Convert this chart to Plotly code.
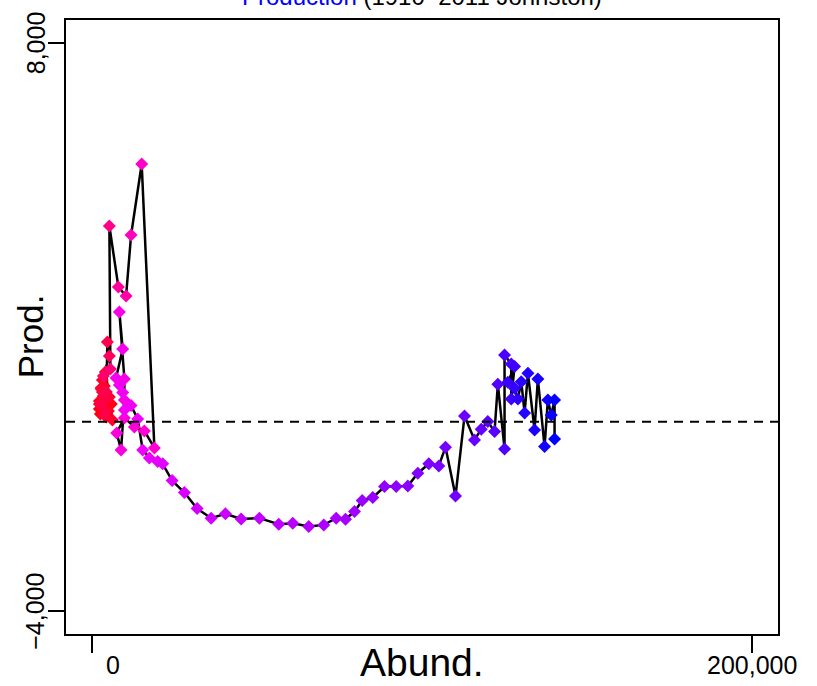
import plotly.graph_objects as go

# Abundance (x) and production (y), in time order
abund = [3035, 2125, 3946, 2428, 3339, 4553, 2732, 4249, 5767, 2125,
         3642, 4856, 3035, 5160, 3946, 6070, 2640, 3339, 2732, 3946,
         4553, 2125, 3035, 3642, 4249, 4553, 5160, 3339, 5463,
         5160, 7891, 10228, 11745, 14963, 18817,
         15782, 12747, 9712, 7375, 8710, 9712, 9712, 8195, 9196, 7193,
         8195, 9196, 9712, 11745, 13749, 15266, 17300, 19819, 21336,
         24189, 27922, 31776, 36025, 40366, 45131, 50685, 56542, 60791, 65647,
         70200, 73963, 76786, 79517, 81854, 85071, 88622, 92173, 95694, 98729,
         102067, 105102, 107136, 110171,
         112902, 115937, 117970, 119973, 122007, 123008, 125042, 125042, 127075, 127075,
         128077, 126045, 128077, 129078, 130110, 131131, 132132, 134147, 135149, 137182,
         138186, 139218, 140217, 140217]
prod = [377, 271, 482, 166, 545, 355, 693, 102, 377, 440,
        756, 229, 883, 524, 1052, 39, 714, 440, 314, 250,
        503, 377, 630, 145, 630, 1685, 1389, 967, 1115,
        4132, 2845, 2655, 3942, 5441, -552,
        -193, -109, 81, -235, -594, 461, 904, 2318, 1537, 925,
        777, 615, 250, 341, 60, -594, -763, -841, -889,
        -1242, -1495, -1833, -2035, -1944, -2050, -2035, -2162, -2141, -2212,
        -2177, -2035, -2056, -1896, -1664, -1600, -1368, -1368, -1354, -1086,
        -889, -932, -537, -1565,
        123, -383, -157, 3, -208, 792, -573, 1410, 1221, 482,
        1164, 834, 708, 482, 847, 187, 1024, -172, 904, -524,
        461, 144, 461, -362]
years = list(range(1910, 1910 + len(abund)))

x_ticks = [0, 200000]
x_tick_labels = ["0", "200,000"]
y_ticks = [-4000, 8000]
y_tick_labels = ["\u22124,000", "8,000"]

FONT = "Liberation Sans, Arial, Helvetica, sans-serif"

fig = go.Figure()
fig.add_trace(go.Scatter(
    x=abund, y=prod, mode="lines+markers",
    line=dict(color="black", width=2.5),
    marker=dict(symbol="diamond", size=10, color=years,
                colorscale=[[0, "#FF0000"], [0.25, "#FF0050"], [0.33, "#FF00D0"],
                            [0.5, "#EE00FF"], [1, "#0000FF"]],
                line=dict(width=0)),
    showlegend=False, hoverinfo="x+y+text", text=[str(y) for y in years],
))

fig.add_shape(type="line", xref="paper", x0=0, x1=1, yref="y", y0=0, y1=0,
              line=dict(color="black", width=2, dash="9px,7px"))

fig.update_layout(
    width=817, height=686,
    margin=dict(l=66, r=39, t=20, b=52),
    paper_bgcolor="white", plot_bgcolor="white",
    font=dict(family=FONT, color="black"),
    xaxis=dict(range=[-8000, 208000], tickvals=x_ticks, showticklabels=False,
               ticks="outside", ticklen=17, tickwidth=2, tickcolor="black",
               showline=True, linecolor="black", linewidth=2, mirror=True,
               showgrid=False, zeroline=False),
    yaxis=dict(range=[-4480, 8480], tickvals=y_ticks, showticklabels=False,
               ticks="outside", ticklen=16, tickwidth=2, tickcolor="black",
               showline=True, linecolor="black", linewidth=2, mirror=True,
               showgrid=False, zeroline=False),
)

ann = []
# x tick labels
ann.append(dict(x=x_ticks[0], y=-0.0505, xref="x", yref="paper", text=x_tick_labels[0],
                showarrow=False, xshift=21, font=dict(size=25), yanchor="middle"))
ann.append(dict(x=x_ticks[1], y=-0.0505, xref="x", yref="paper", text=x_tick_labels[1],
                showarrow=False, font=dict(size=25), yanchor="middle"))
# y tick labels
for v, t in zip(y_ticks, y_tick_labels):
    ann.append(dict(x=-0.0428, y=v, xref="paper", yref="y", text=t, showarrow=False,
                    textangle=-90, font=dict(size=25), xanchor="center", yanchor="middle"))
# axis titles
ann.append(dict(x=0.5, y=-0.0472, xref="paper", yref="paper", text="Abund.",
                showarrow=False, font=dict(size=39), yanchor="middle"))
ann.append(dict(x=-0.0505, y=0.485, xref="paper", yref="paper", text="Prod.",
                showarrow=False, textangle=-90, font=dict(size=35), xanchor="center", yanchor="middle"))
# title (cut at top of the page)
ann.append(dict(x=0.5, y=1.0385, xref="paper", yref="paper",
                text="<span style='color:#0000FF'>Production</span> (1910\u20132011 Johnston)",
                showarrow=False, font=dict(size=24), yanchor="middle"))
fig.update_layout(annotations=ann)

fig.write_html("out.html", config={"displayModeBar": False},
               post_script="document.body.style.margin='0px';")
